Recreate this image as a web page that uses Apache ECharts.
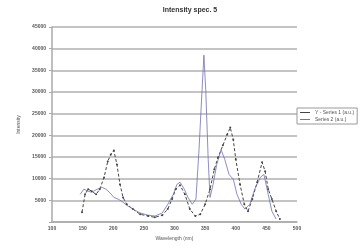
<!DOCTYPE html>
<html><head><meta charset="utf-8">
<script src="https://cdn.jsdelivr.net/npm/echarts@6/dist/echarts.min.js"></script>
<style>html,body{margin:0;padding:0;background:#fff}#c{width:360px;height:246px}</style>
</head><body><div id="c"></div>
<script>
var title = 'Intensity spec. 5';
var xTitle = 'Wavelength (nm)';
var yTitle = 'Intensity';
var seriesNames = ['Y - Series 1 (a.u.)', 'Series 2 (a.u.)'];
var xMin = 100, xMax = 500, xStep = 50;
var yMin = 0, yMax = 45000, yStep = 5000;

var dashedX = [149,154,159,165,172,178,185,191,196,201,206,211,216,222,232,244,257,268,280,289,296,302,309,317,325,334,342,350,358,365,371,379,386,391,396,400,407,414,420,427,435,443,448,453,459,466,472];
var dashedY = [2300,6400,7600,7100,6400,7600,10300,14000,15600,16500,13300,8700,5700,4100,3000,1800,1400,1100,1600,3000,5300,7600,8500,6400,3000,1400,1800,4100,7600,12200,14900,17700,20200,21800,19000,14500,8700,4100,2500,5300,9200,13800,11700,7600,5300,2500,700];

var solidX = [146,152,159,165,174,182,188,195,201,208,214,222,232,244,257,268,280,289,298,304,309,316,322,329,335,340,345,348,351,355,358,363,369,376,382,389,396,402,409,415,423,431,440,446,453,459,466];
var solidY = [6400,7600,7100,6900,7600,8000,7600,6700,5700,5300,4800,3900,3000,2100,1600,1400,2100,4100,6400,8700,9200,7600,5700,4100,5300,16700,30500,38500,30500,14500,5700,8700,13300,16700,14500,11000,9900,6400,4100,3000,4100,7600,10300,11000,6400,2500,700];

function pairs(xs, ys){ return xs.map(function(x,i){return [x, ys[i]];}); }

var chart = echarts.init(document.getElementById('c'), null, {renderer:'canvas'});
var txt = '#555';
chart.setOption({
  animation:false,
  backgroundColor:'#fff',
  title:{text:title,left:185,top:2,textAlign:'center',textStyle:{fontSize:7,fontWeight:'bold',color:'#333',fontFamily:'Liberation Sans'}},
  legend:{orient:'vertical',left:297,top:108,itemWidth:10,itemHeight:4,itemGap:2,padding:[2,3],
    borderColor:'#999',borderWidth:1,
    textStyle:{fontSize:5,color:'#555',fontFamily:'Liberation Sans'},
    data:[{name:seriesNames[0],icon:'path://M0,0H10V1H0Z'},{name:seriesNames[1],icon:'path://M0,0H10V1H0Z'}]},
  grid:{left:52,right:63,top:27,bottom:23},
  xAxis:{type:'value',min:xMin,max:xMax,interval:xStep,
    name:xTitle,nameLocation:'middle',nameGap:11,nameTextStyle:{fontSize:5,color:txt,fontFamily:'Liberation Sans'},
    axisLine:{lineStyle:{color:'#aaa',width:1.5}},axisTick:{show:false},
    axisLabel:{fontSize:5,color:txt,margin:4,fontFamily:'Liberation Sans',fontWeight:'bold'},
    splitLine:{show:false}},
  yAxis:{type:'value',min:yMin,max:yMax,interval:yStep,
    name:yTitle,nameLocation:'middle',nameGap:28,nameRotate:90,nameTextStyle:{fontSize:5,color:txt,fontFamily:'Liberation Sans'},
    axisLine:{show:true,lineStyle:{color:'#aaa',width:1.5}},axisTick:{show:true,length:3,lineStyle:{color:'#aaa'}},
    axisLabel:{fontSize:5,color:txt,margin:6,fontFamily:'Liberation Sans',fontWeight:'bold',formatter:function(v){return v===0?'':String(v);}},
    splitLine:{show:true,lineStyle:{color:'#c4c4c4',width:2.2}}},
  series:[
    {name:seriesNames[0],type:'line',data:pairs(dashedX,dashedY),
      lineStyle:{color:'#444',width:1,type:[3,2]},itemStyle:{color:'#444'},
      symbol:'circle',symbolSize:2,showSymbol:true},
    {name:seriesNames[1],type:'line',data:pairs(solidX,solidY),
      lineStyle:{color:'#7070b4',width:0.8},itemStyle:{color:'#7070b4'},
      symbol:'none'}
  ]
});
</script></body></html>
